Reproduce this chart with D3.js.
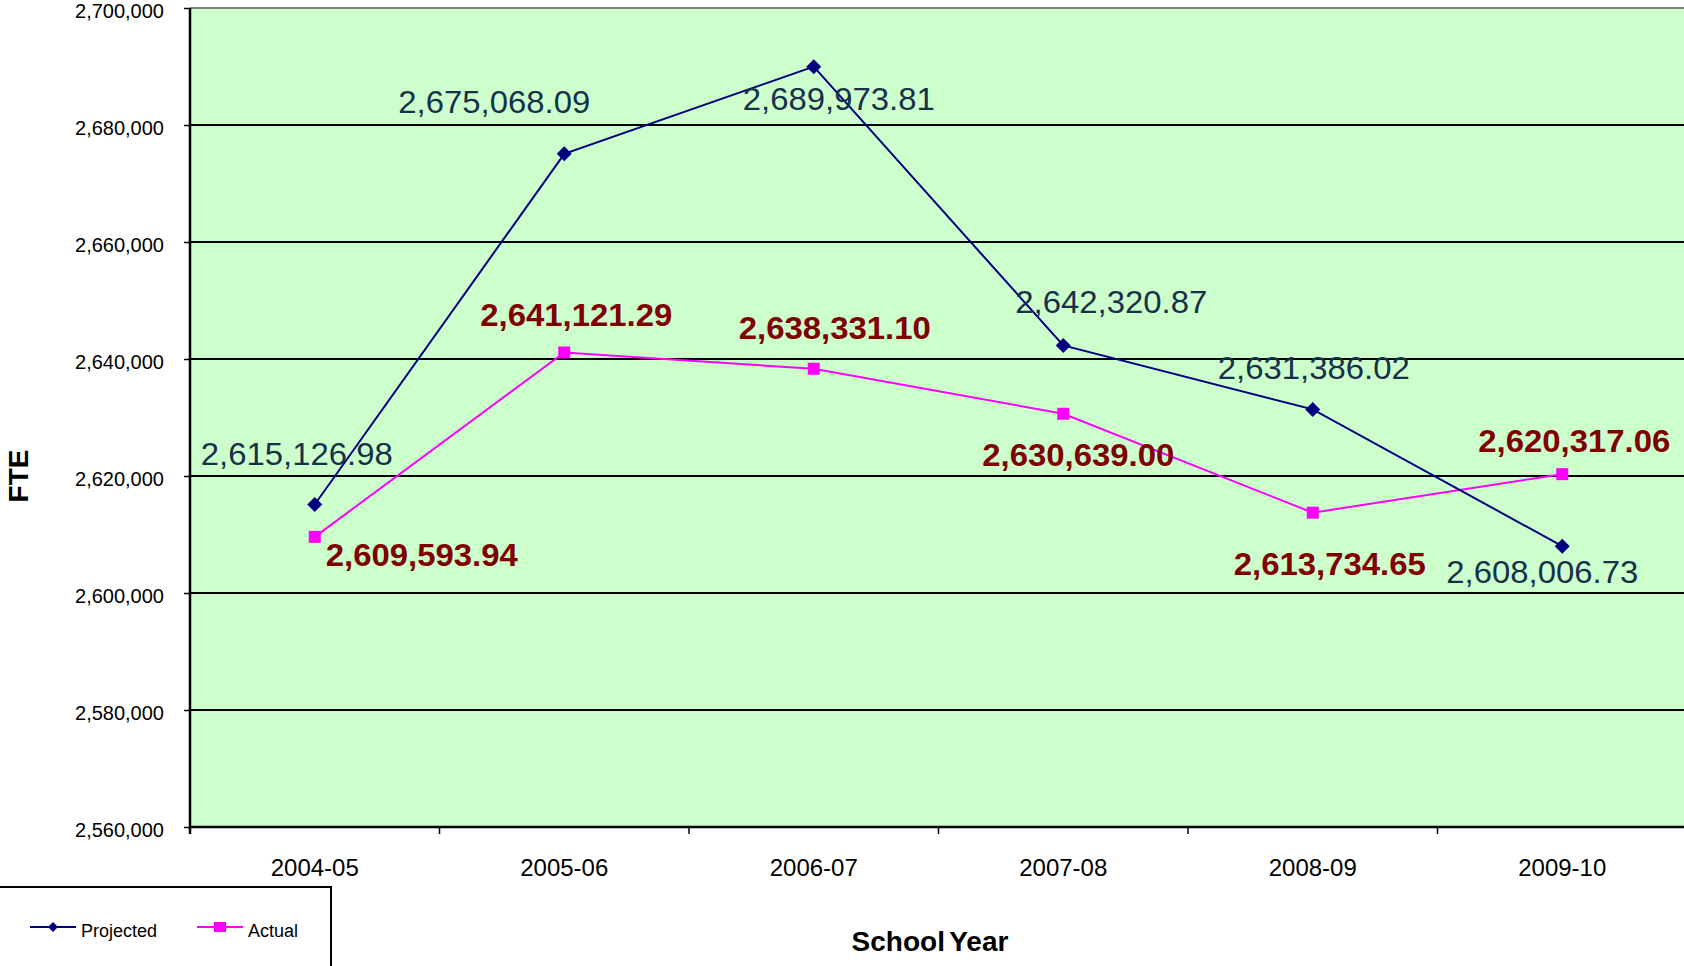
<!DOCTYPE html>
<html>
<head>
<meta charset="utf-8">
<script src="https://cdn.jsdelivr.net/npm/d3@7"></script>
<style>
  html, body { margin: 0; padding: 0; background: #fff; overflow: hidden; }
  svg { display: block; font-family: "Liberation Sans", Arial, sans-serif; }
</style>
</head>
<body>
<script>
const categories = ["2004-05", "2005-06", "2006-07", "2007-08", "2008-09", "2009-10"];
const projected = [2615126.98, 2675068.09, 2689973.81, 2642320.87, 2631386.02, 2608006.73];
const actual    = [2609593.94, 2641121.29, 2638331.10, 2630639.00, 2613734.65, 2620317.06];
const yTicks = [2560000, 2580000, 2600000, 2620000, 2640000, 2660000, 2680000, 2700000];
const seriesNames = ["Projected", "Actual"];

// label placement (layout only): offsets from each point, label baseline
const projLabelOffsets = [[-18, -40], [-70, -41], [25, 43], [48, -32], [1, -30], [-20, 37]];
const actLabelOffsets  = [[107, 29], [12, -26], [21, -30], [15, 52], [17, 62], [12, -22]];

const W = 1684, H = 966;
const plot = { left: 190, top: 8, right: 1687, bottom: 827 };

const svg = d3.select("body").append("svg").attr("width", W).attr("height", H);

const x = d3.scaleBand().domain(categories).range([plot.left, plot.right]).paddingInner(0).paddingOuter(0);
const y = d3.scaleLinear().domain([2560000, 2700000]).range([plot.bottom, plot.top]);
const cx = d => x(d) + x.bandwidth() / 2;

// plot background
svg.append("rect")
  .attr("x", plot.left).attr("y", plot.top)
  .attr("width", plot.right - plot.left).attr("height", plot.bottom - plot.top)
  .attr("fill", "#ccffcc");

// gridlines
svg.append("g").selectAll("line")
  .data(yTicks.filter(t => t > 2560000 && t < 2700000))
  .join("line")
  .attr("x1", plot.left).attr("x2", plot.right)
  .attr("y1", d => y(d)).attr("y2", d => y(d))
  .attr("stroke", "#000").attr("stroke-width", 2);

// top border (grey)
svg.append("line")
  .attr("x1", plot.left).attr("x2", plot.right)
  .attr("y1", y(2700000)).attr("y2", y(2700000))
  .attr("stroke", "#808080").attr("stroke-width", 2);

// y axis
const yAxis = d3.axisLeft(y).tickValues(yTicks).tickSize(6).tickPadding(20)
  .tickFormat(d3.format(","));
const gy = svg.append("g").attr("transform", `translate(${plot.left},0)`).call(yAxis);
gy.select(".domain").remove();
gy.selectAll(".tick line").attr("stroke", "#000").attr("stroke-width", 1.5);
gy.selectAll(".tick text")
  .attr("font-size", 20).attr("fill", "#000")
  .attr("font-family", "Liberation Sans, Arial, sans-serif")
  .attr("dy", "0.46em");
svg.append("line")
  .attr("x1", plot.left).attr("x2", plot.left)
  .attr("y1", plot.top).attr("y2", plot.bottom + 7)
  .attr("stroke", "#000").attr("stroke-width", 2.5);

// x axis
svg.append("line")
  .attr("x1", plot.left).attr("x2", plot.right)
  .attr("y1", plot.bottom).attr("y2", plot.bottom)
  .attr("stroke", "#000").attr("stroke-width", 2.5);
svg.append("g").selectAll("line")
  .data(categories.slice(1))
  .join("line")
  .attr("x1", d => x(d)).attr("x2", d => x(d))
  .attr("y1", plot.bottom).attr("y2", plot.bottom + 7)
  .attr("stroke", "#000").attr("stroke-width", 1.5);
svg.append("g").selectAll("text")
  .data(categories)
  .join("text")
  .attr("x", d => cx(d)).attr("y", 876)
  .attr("text-anchor", "middle")
  .attr("font-size", 24).attr("fill", "#000")
  .text(d => d);

// axis titles
svg.append("text")
  .attr("x", 930).attr("y", 951)
  .attr("text-anchor", "middle")
  .attr("font-size", 28).attr("font-weight", "bold")
  .attr("word-spacing", -3)
  .text("School Year");
svg.append("text")
  .attr("transform", "translate(28,476) rotate(-90)")
  .attr("text-anchor", "middle")
  .attr("font-size", 28).attr("font-weight", "bold")
  .text("FTE");

// lines
const line = d3.line().x(d => cx(d.c)).y(d => y(d.v));
const projData = categories.map((c, i) => ({ c, v: projected[i] }));
const actData = categories.map((c, i) => ({ c, v: actual[i] }));

svg.append("path").datum(actData)
  .attr("d", line).attr("fill", "none")
  .attr("stroke", "#ff00ff").attr("stroke-width", 2);
svg.append("path").datum(projData)
  .attr("d", line).attr("fill", "none")
  .attr("stroke", "#000080").attr("stroke-width", 2);

const diamond = s => `M0,${-s}L${s},0L0,${s}L${-s},0Z`;

svg.append("g").selectAll("rect")
  .data(actData).join("rect")
  .attr("x", d => cx(d.c) - 6).attr("y", d => y(d.v) - 6)
  .attr("width", 12).attr("height", 12)
  .attr("fill", "#ff00ff");
svg.append("g").selectAll("path")
  .data(projData).join("path")
  .attr("transform", d => `translate(${cx(d.c)},${y(d.v)})`)
  .attr("d", diamond(7.5))
  .attr("fill", "#000080");

// data labels
const fmt = d3.format(",.2f");
svg.append("g").selectAll("text")
  .data(projData).join("text")
  .attr("x", (d, i) => cx(d.c) + projLabelOffsets[i][0])
  .attr("y", (d, i) => y(d.v) + projLabelOffsets[i][1])
  .attr("text-anchor", "middle")
  .attr("font-size", 31).attr("fill", "#17304a")
  .attr("textLength", 192).attr("lengthAdjust", "spacingAndGlyphs")
  .text(d => fmt(d.v));
svg.append("g").selectAll("text")
  .data(actData).join("text")
  .attr("x", (d, i) => cx(d.c) + actLabelOffsets[i][0])
  .attr("y", (d, i) => y(d.v) + actLabelOffsets[i][1])
  .attr("text-anchor", "middle")
  .attr("font-size", 31).attr("font-weight", "bold").attr("fill", "#800000")
  .attr("textLength", 192).attr("lengthAdjust", "spacingAndGlyphs")
  .text(d => fmt(d.v));

// legend
const lg = svg.append("g");
lg.append("rect")
  .attr("x", -2).attr("y", 887).attr("width", 333).attr("height", 100)
  .attr("fill", "#fff").attr("stroke", "#000").attr("stroke-width", 2);
const legendItems = [
  { name: seriesNames[0], color: "#000080", x0: 30, shape: "diamond" },
  { name: seriesNames[1], color: "#ff00ff", x0: 197, shape: "square" }
];
legendItems.forEach(it => {
  lg.append("line").attr("x1", it.x0).attr("x2", it.x0 + 46)
    .attr("y1", 927).attr("y2", 927)
    .attr("stroke", it.color).attr("stroke-width", 2);
  if (it.shape === "diamond") {
    lg.append("path").attr("transform", `translate(${it.x0 + 23},927)`)
      .attr("d", diamond(5)).attr("fill", it.color);
  } else {
    lg.append("rect").attr("x", it.x0 + 17).attr("y", 922)
      .attr("width", 12).attr("height", 10).attr("fill", it.color);
  }
  lg.append("text").attr("x", it.x0 + 51).attr("y", 937)
    .attr("font-size", 18).attr("fill", "#000").text(it.name);
});
</script>
</body>
</html>
